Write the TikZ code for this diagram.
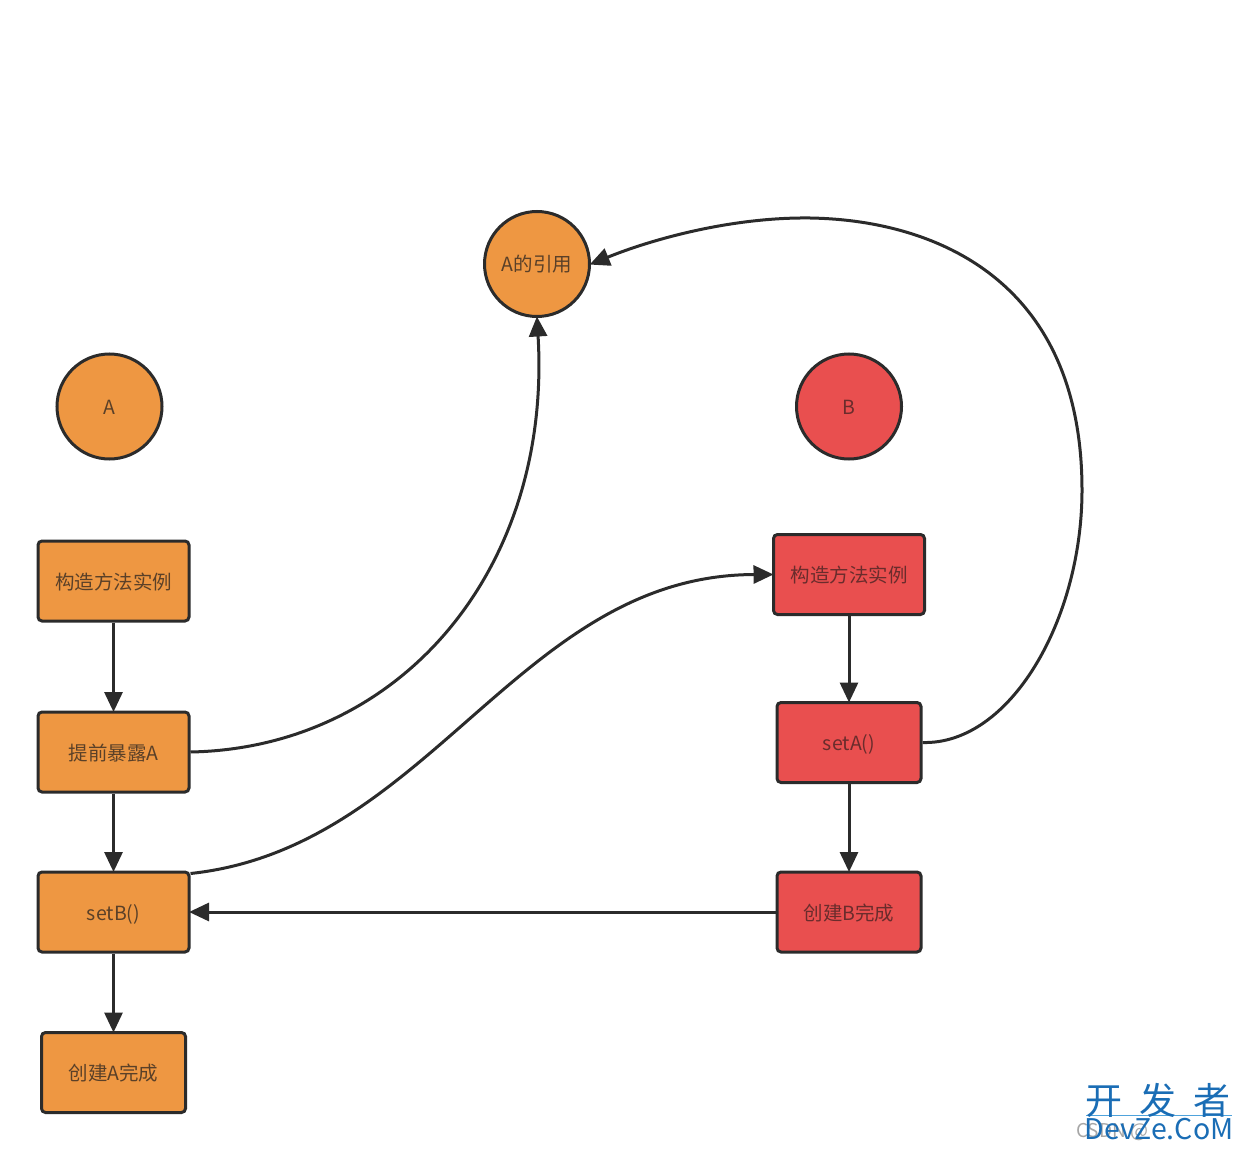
\documentclass[tikz,border=0pt]{standalone}
\usepackage{fontspec}
\setmainfont{Noto Sans CJK SC}
\usetikzlibrary{arrows.meta}
\definecolor{orangefill}{HTML}{EE9742}
\definecolor{redfill}{HTML}{E94F4F}
\definecolor{edgeink}{HTML}{2B2B2B}
\definecolor{olabel}{HTML}{5A4028}
\definecolor{rlabel}{HTML}{6A2C2C}
\definecolor{wmblue}{HTML}{1A6DB5}
\definecolor{wmline}{HTML}{4FA3DC}
\newcommand{\lowered}[1]{\raisebox{-8pt}[0pt][0pt]{#1}}
\tikzset{
  boxbase/.style={draw=edgeink,line width=3pt,rounded corners=4pt,inner sep=0pt,font=\fontsize{19.5}{22}\selectfont},
  obox/.style={boxbase,fill=orangefill,text=olabel},
  rbox/.style={boxbase,fill=redfill,text=rlabel},
  circbase/.style={circle,draw=edgeink,line width=3pt,minimum size=105pt,inner sep=0pt,font=\fontsize{19.5}{22}\selectfont},
  ocirc/.style={circbase,fill=orangefill,text=olabel},
  rcirc/.style={circbase,fill=redfill,text=rlabel},
  conn/.style={draw=edgeink,line width=3pt,shorten >=-1.5pt,-{Triangle[length=20pt,width=18pt]}},
  curveconn/.style={draw=edgeink,line width=3pt,shorten >=-1.5pt,-{Triangle[length=20pt,width=18pt]}},
}
\begin{document}
\begin{tikzpicture}[x=1pt,y=-1pt]
\useasboundingbox (0,0) rectangle (1242,1150);
% left column
\node[ocirc] (circA) at (109.5,406.5) {\lowered{A}};
\node[obox,minimum width=151pt,minimum height=80pt] (ctorA) at (113.5,581) {\lowered{构造方法实例}};
\node[obox,minimum width=151pt,minimum height=80pt] (expose) at (113.5,752) {\lowered{提前暴露A}};
\node[obox,minimum width=151pt,minimum height=80pt] (setB) at (113.5,912) {\lowered{setB()}};
\node[obox,minimum width=144pt,minimum height=80pt] (doneA) at (113.5,1072.5) {\lowered{创建A完成}};
% reference
\node[ocirc] (ref) at (537,264) {\lowered{A的引用}};
% right column
\node[rcirc] (circB) at (849,406.5) {\lowered{B}};
\node[rbox,minimum width=151pt,minimum height=80pt] (ctorB) at (849,574.5) {\lowered{构造方法实例}};
\node[rbox,minimum width=144pt,minimum height=80pt] (setA) at (849,742.5) {\lowered{setA()}};
\node[rbox,minimum width=144pt,minimum height=80pt] (doneB) at (849,912) {\lowered{创建B完成}};
% straight connectors
\draw[conn] (ctorA) -- (expose);
\draw[conn] (expose) -- (setB);
\draw[conn] (setB) -- (doneA);
\draw[conn] (ctorB) -- (setA);
\draw[conn] (setA) -- (doneB);
\draw[conn] (doneB) -- (setB);
% curved connectors
\draw[curveconn] (expose.east) .. controls (400,748) and (552,570) .. (ref.south);
\draw[curveconn] ([yshift=-3pt]setB.north east) .. controls (430,848) and (520,575) .. (ctorB.west);
\coordinate (farR) at (1082,490);
\draw[curveconn] (setA.east) .. controls (1010,745) and (1082,620) .. (farR)
   .. controls (1082,280) and (935,220) .. (810,218)
   .. controls (730,217) and (650,240) .. (ref.east);
% watermark
\node[text=gray!70,font=\fontsize{19}{22}\selectfont,anchor=west,inner sep=0pt] (wmgrey) at (1076,1132) {CSDN @};
\draw[wmline,line width=1pt] (1086,1115) -- (1232,1115);
\node[text=wmblue,font=\fontsize{37}{40}\selectfont,inner sep=0pt] (wmtop) at (1158,1100) {开\hspace{0.45em}发\hspace{0.45em}者};
\node[text=wmblue,font=\fontsize{28.5}{30}\selectfont,inner sep=0pt] (wmbot) at (1159,1129) {DevZe.CoM};
\end{tikzpicture}
\end{document}
